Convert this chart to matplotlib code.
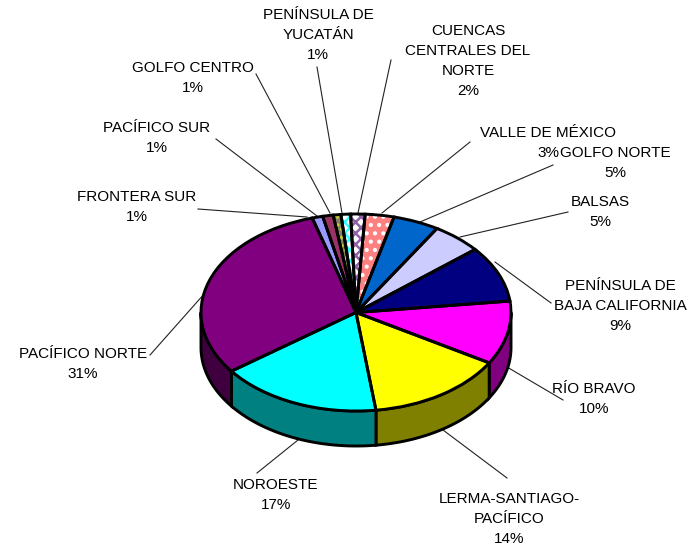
import numpy as np
from matplotlib import pyplot as plt

plt.rcParams['font.family'] = ['Liberation Sans', 'DejaVu Sans']
plt.rcParams['hatch.linewidth'] = 1.8

W, H = 698, 550

names = ['CUENCAS\nCENTRALES DEL\nNORTE', 'VALLE DE MÉXICO', 'GOLFO NORTE', 'BALSAS',
         'PENÍNSULA DE\nBAJA CALIFORNIA', 'RÍO BRAVO', 'LERMA-SANTIAGO-\nPACÍFICO',
         'NOROESTE', 'PACÍFICO NORTE', 'FRONTERA SUR', 'PACÍFICO SUR',
         'GOLFO CENTRO', 'PENÍNSULA DE\nYUCATÁN']
values = [1.5, 3.0, 4.8, 5.2, 9.2, 10.4, 14.4, 16.9, 30.6, 1.1, 1.1, 0.8, 1.0]
colors = ['white', '#FF8080', '#0066CC', '#CCCCFF', '#000080', '#FF00FF', '#FFFF00',
          '#00FFFF', '#800080', '#9999FF', '#993366', '#CCCC33', 'white']
hatch_colors = ['#9060A8', 'white', None, None, None, None, None,
                None, None, None, None, '#808060', '#33FFFF']
hatches = ['xxx', '..', None, None, None, None, None,
           None, None, None, None, 'xxxx', 'xxx']
wall_colors = {5: '#800080', 6: '#808000', 7: '#008080', 8: '#400040'}

# posicion de etiquetas (centro) y lineas guia, en pixeles
label_xy = [(468, 61), (548, 143), (615, 163), (600, 212), (620, 306), (594, 399), (509, 519),
            (276, 495), (83, 364), (137, 207), (157, 138), (193, 78), (318, 35)]
leaders = [((391, 60), (358, 213)), ((470, 142), (382, 213)), ((553, 165), (420, 222)),
           ((568, 212), (460, 237)), ((551, 303), (495, 262)), ((563, 400), (507, 367)),
           ((507, 478), (443, 430)), ((257, 473), (298, 440)), ((150, 355), (205, 293)),
           ((198, 209), (307, 217)), ((216, 139), (317, 216)), ((256, 74), (330, 213)),
           ((317, 67), (342, 213))]

fig = plt.figure(figsize=(W / 100, H / 100), dpi=100)

# capa de texto y lineas
bg = fig.add_axes([0, 0, 1, 1])
bg.set_xlim(0, W)
bg.set_ylim(H, 0)
bg.axis('off')
for (p0, p1) in leaders:
    bg.plot([p0[0], p1[0]], [p0[1], p1[1]], color='#222222', lw=0.8)
for i, name in enumerate(names):
    x, y = label_xy[i]
    bg.text(x, y, name + '\n%.0f%%' % values[i], ha='center', va='center', ma='center',
            fontsize=11, linespacing=1.55, color='black')

# pastel: elipse de 155x98.5 px con 35 px de grosor
left, right, top, rim = 201, 511, 214, 411
depth = 35 / ((rim - top) / 2)
ax = fig.add_axes([left / W, 1 - (rim + 35) / H, (right - left) / W, (rim + 35 - top) / H])
ax.patch.set_alpha(0)

start = 92
wedges, _ = ax.pie(values, colors=colors, startangle=start, counterclock=False, radius=1,
                   wedgeprops={'linewidth': 0})
for w, hc, ht in zip(wedges, hatch_colors, hatches):
    if ht:
        w.set_hatch(ht)
        w.set_edgecolor(hc)
ax.pie(values, colors=['none'] * len(values), startangle=start, counterclock=False, radius=1,
       wedgeprops={'linewidth': 2.1, 'edgecolor': 'black', 'facecolor': 'none'})

# pared lateral, solo la mitad de abajo se ve
cum = start - np.cumsum([0] + values) * 360 / sum(values)
for i, col in wall_colors.items():
    t = np.radians(np.linspace(min(cum[i], 0), max(cum[i + 1], -180), 60))
    xs = np.cos(t)
    ys = np.sin(t)
    ax.fill(np.r_[xs, xs[::-1]], np.r_[ys, ys[::-1] - depth], facecolor=col,
            edgecolor='black', lw=2.1, zorder=0.5)

ax.set_aspect('auto')
ax.set_xlim(-1, 1)
ax.set_ylim(-1 - depth, 1)
for c in ax.patches + ax.lines:
    c.set_clip_on(False)

fig.savefig('out.png', dpi=100)
